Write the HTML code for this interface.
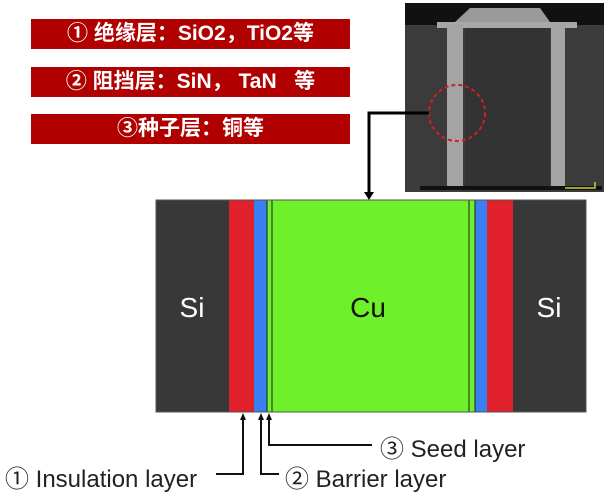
<!DOCTYPE html>
<html><head><meta charset="utf-8"><style>
body{margin:0;width:607px;height:491px;background:#fff;position:relative;overflow:hidden;font-family:"Liberation Sans","Noto Sans CJK SC",sans-serif}
.b{position:absolute;left:31px;width:319px;height:30px;background:#b00000;color:#fff;font-size:21px;line-height:30px;text-align:center;font-weight:bold;font-family:"Liberation Sans","Noto Sans CJK SC",sans-serif}
.a{position:absolute}
.t{position:absolute;font-size:24px;color:#222;white-space:nowrap}
</style></head><body>
<div class="b" style="top:19px">① 绝缘层：SiO2，TiO2等</div>
<div class="b" style="top:67px">② 阻挡层：SiN，&nbsp;TaN&nbsp;&nbsp;&nbsp;等</div>
<div class="b" style="top:114px">③种子层：铜等</div>

<svg class="a" style="left:0;top:0" width="607" height="491">
<rect x="405" y="3" width="199" height="189" fill="#3b3b3b"/>
<rect x="405" y="3" width="199" height="22" fill="#111"/>
<polygon points="455,22 470,8 540,8 550,22" fill="#9a9a9a"/>
<rect x="437" y="22" width="140" height="6" fill="#a8a8a8"/>
<rect x="447" y="24" width="16" height="162" fill="#a4a4a4"/>
<rect x="551" y="24" width="14" height="162" fill="#a4a4a4"/>
<rect x="465" y="28" width="85" height="158" fill="#333"/>
<rect x="420" y="186" width="182" height="4" fill="#111"/>
<path d="M565 188 h30 v-6" stroke="#cc3" stroke-width="1.5" fill="none"/>
<circle cx="457" cy="113" r="28" fill="none" stroke="#d02020" stroke-width="2" stroke-dasharray="4,3"/>
<path d="M429 113 H369 V194" stroke="#000" stroke-width="3" fill="none"/>
<polygon points="364,192 374,192 369,200" fill="#000"/>
<rect x="156" y="200" width="74" height="212" fill="#383838"/>
<rect x="513" y="200" width="73" height="212" fill="#383838"/>
<rect x="229" y="200" width="26" height="212" fill="#e0202a"/>
<rect x="487" y="200" width="26" height="212" fill="#e0202a"/>
<rect x="254" y="200" width="13" height="212" fill="#3a7ff0"/>
<rect x="475" y="200" width="12" height="212" fill="#3a7ff0"/>
<rect x="267" y="200" width="208" height="212" fill="#6ef02a"/>
<line x1="267" y1="200" x2="267" y2="412" stroke="#222" stroke-width="1"/>
<line x1="272" y1="200" x2="272" y2="412" stroke="#222" stroke-width="1"/>
<line x1="469" y1="200" x2="469" y2="412" stroke="#222" stroke-width="1"/>
<line x1="475" y1="200" x2="475" y2="412" stroke="#222" stroke-width="1"/>
<rect x="156" y="200" width="430" height="212" fill="none" stroke="#555" stroke-width="1"/>
<text x="192" y="317" font-size="28" fill="#fff" text-anchor="middle" font-family="Liberation Sans">Si</text>
<text x="549" y="317" font-size="28" fill="#fff" text-anchor="middle" font-family="Liberation Sans">Si</text>
<text x="368" y="317" font-size="28" fill="#111" text-anchor="middle" font-family="Liberation Sans">Cu</text>
<g stroke="#111" stroke-width="2" fill="none">
<path d="M243 418 V474 H216"/>
<path d="M261 418 V474 H279"/>
<path d="M269 418 V445 H372"/>
</g>
<g fill="#111">
<polygon points="240,420 246,420 243,413"/>
<polygon points="258,420 264,420 261,413"/>
<polygon points="266,420 272,420 269,413"/>
</g>
</svg>
<div class="t" style="left:5px;top:459px">① Insulation layer</div>
<div class="t" style="left:285px;top:459px">② Barrier layer</div>
<div class="t" style="left:380px;top:429px">③ Seed layer</div>
</body></html>
